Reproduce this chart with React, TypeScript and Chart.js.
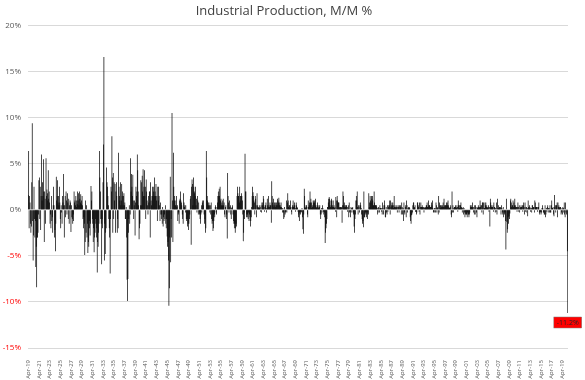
import React, { useEffect, useRef } from "react";
import { Chart, registerables } from "chart.js";

Chart.register(...registerables);

// Monthly % change, Apr-1919 .. Apr-2020
const ip1919to1929 = [
  1.6, 6.4, -2.0, 1.5, 0.8, -1.5, -2.5, -1.8, 3.0,
  9.4, -1.2, -5.5, -2.8, 2.5, -1.0, -3.0, -1.2, -6.2, -4.0, -8.4, -3.0,
  -3.0, -2.5, -0.5, 3.2, 3.5, -1.0, 2.5, -2.2, 1.5, 6.0, 1.0, 3.0,
  1.5, 5.5, 2.0, -3.5, 2.0, 1.2, -1.5, 5.6, 1.5, 2.2, 1.8, 1.0,
  4.3, 1.2, 2.0, 0.8, -1.5, -0.5, -2.0, 1.5, -1.2, -0.8, -2.5, 0.5,
  2.5, 0.5, -3.0, -2.2, -4.5, -1.5, 3.6, 1.0, 1.5, 3.2, 0.8, 1.5,
  0.5, 2.5, 0.8, -1.0, -2.0, 0.5, -0.3, -1.5, 1.5, 0.8, 3.9, 0.5,
  -3.0, 0.5, 1.5, -0.8, 2.0, 1.0, -0.5, 1.8, 0.8, -1.0, 1.2, -1.5,
  0.5, 1.0, 0.8, -2.4, 0.5, -0.8, -1.0, -1.5, -0.5, -1.2, 2.0, 0.8,
  1.0, 0.5, 1.5, 0.3, 1.0, 0.6, 2.0, 1.0, 1.8, 0.5, 2.0, 1.2,
  0.8, 1.7, 0.6, 1.0, 1.5, 0.5, -1.0, -2.0, -0.8, -1.5, -4.9, -3.5,
];
const ip1930s = [
  1.0, -2.5, 0.5, -3.0, -1.5, -4.7, -3.5, -4.0, -1.2, -2.0, -2.8, -1.5,
  2.6, 1.0, 2.0, -1.0, -1.5, -3.5, -2.0, -4.6, -3.0, -2.5, -1.0, -1.5,
  -3.0, -2.0, -6.8, -3.5, -4.0, -2.5, -1.5, 6.4, 3.5, 2.0, -1.0, -1.5,
  -5.9, -1.0, -2.0, 3.0, 7.1, 16.6, -5.5, -1.5, -4.8, -2.5, -2.0, 4.6,
  3.0, 2.5, 1.5, 0.5, -1.0, -2.0, -3.0, -6.9, -1.0, 2.5, 2.0, 8.0,
  3.5, -2.5, 4.0, -1.0, 3.0, 1.0, 2.8, -2.5, 2.0, 3.0, 1.5, -2.5,
  -1.0, -2.0, 6.2, 2.5, 1.5, 1.0, 3.0, 0.5, 1.0, 2.8, 1.5, 2.0,
  0.5, 1.5, 1.8, 0.5, 0.8, -1.0, -1.0, 0.3, -3.0, -7.6, -9.9, -7.5,
  -2.5, -1.0, 0.5, -1.5, -0.5, 5.6, 2.0, 3.9, 2.5, 1.5, 3.8, 1.0,
  -1.0, 0.5, 1.0, -2.8, 0.8, 2.5, 1.5, 2.0, 6.0, 4.3, 2.0, 0.5,
];
const ip1940s = [
  -3.2, -2.0, -1.5, 0.5, 3.2, 3.0, 0.5, 3.7, 2.0, 4.4, 1.5, 2.5,
  4.3, 1.5, 2.5, -1.0, 3.3, 2.0, 1.0, 0.5, -0.5, 1.5, 0.8, 2.0,
  2.0, -3.0, 3.0, 1.0, 0.5, 1.5, 2.5, 1.5, 2.0, 2.5, 1.5, 3.5,
  2.0, 1.5, 2.8, 1.0, 1.5, -1.2, 2.5, 1.0, 2.5, 1.5, 0.5, -1.2,
  0.8, -0.5, -1.0, -0.5, -1.5, 0.3, -1.8, -0.8, -1.2, -0.5, -1.0, 0.5,
  -1.5, -2.0, -1.0, -2.9, -4.0, -3.5, -5.5, -10.4, -8.5, -3.0, 3.6, -5.7,
  -1.0, -3.0, 10.5, 1.0, -3.5, 6.2, 2.5, 1.0, 1.5, 1.0, 0.5, 0.5,
  1.5, 0.3, 0.5, -1.2, -0.5, -0.3, -1.5, 1.0, 1.2, 2.0, 1.0, 0.8,
  0.5, -0.5, -1.0, -1.5, 1.8, 0.8, 0.3, 0.5, -0.3, 0.5, -1.0, -1.2,
  -1.0, -1.8, -1.5, -2.2, -1.5, -1.0, -0.5, 1.2, 1.5, -3.8, 2.5, 3.3,
];
const ip1950s = [
  2.8, 0.5, 3.5, 2.5, 2.0, 1.8, 1.5, 2.5, 0.5, 1.2, -0.3, 1.5,
  1.0, -0.5, 0.8, -0.3, -0.5, -1.0, -1.5, -0.5, 0.5, -0.3, 0.8, 1.0,
  0.5, 1.0, -0.5, -1.5, -1.0, -2.5, -2.0, 6.4, 3.5, 1.5, 1.0, 0.8,
  0.5, 0.8, 0.5, -0.3, 0.5, -0.5, 0.8, -1.0, -1.5, -1.2, -2.3, -2.0,
  -1.2, -0.5, -0.8, 0.3, 0.5, -0.3, -0.5, 0.3, 0.8, 1.5, 2.0, 1.5,
  2.3, 1.5, 2.5, 1.0, 1.2, 0.5, 0.8, 0.5, 1.0, 1.2, 0.5, 0.8,
  -0.5, -0.8, 0.3, 0.5, -1.0, -0.5, -3.1, 4.0, 1.5, 0.8, -0.3, 1.0,
  0.3, 0.5, -0.5, -1.0, 0.2, 0.3, 0.5, -0.5, -1.2, -1.5, -2.0, -1.5,
  -2.5, -2.0, -1.5, -1.8, 1.5, 2.5, 1.8, 1.5, 1.5, 0.8, 2.5, 1.0,
  1.5, 1.5, 1.8, 1.5, 1.0, -0.5, -3.4, -2.5, -0.3, -1.0, 6.1, 2.0,
];
const ip1960s = [
  2.0, -0.8, -0.5, -0.8, -0.5, -1.0, -0.3, -1.2, -0.5, -0.8, -1.8, -1.2,
  -0.8, 0.3, 1.5, 2.5, 1.9, 1.5, 1.0, 0.8, -0.5, 1.5, 1.2, 0.5,
  -0.8, 1.8, 0.5, 0.3, 0.2, 0.3, 0.5, 0.2, 0.3, -0.2, 0.5, -0.3,
  0.8, 0.5, 0.8, 1.5, 1.2, 0.3, -0.2, 0.5, 0.5, 0.8, -0.3, 0.2,
  1.2, 0.5, 0.3, 1.5, 0.5, 0.3, 0.8, 0.5, 0.5, -1.4, 3.1, 1.5,
  0.8, 0.5, 1.2, 0.3, 0.8, 0.5, 0.8, 0.3, 0.5, 0.8, 0.5, 1.2,
  1.0, 0.8, 1.3, 0.5, 0.8, 0.5, 0.3, 0.8, 0.3, 0.2, -0.3, 0.2,
  -0.3, -1.0, -0.8, 0.3, -0.5, -0.3, -0.2, 1.0, -0.3, 0.8, 1.8, 1.0,
  0.3, 0.5, 0.5, 0.2, 1.0, 0.3, -0.2, -0.5, 0.3, 0.5, 1.0, 0.3,
  0.5, 0.8, 0.5, -0.2, 0.2, 0.8, 0.5, 0.3, 0.2, -0.2, -0.8, -0.5,
];
const ip1970s = [
  -1.2, -0.3, -0.2, -0.5, -0.3, -0.2, 0.2, -0.8, -2.1, -2.6, -0.5, 2.3,
  1.5, 0.3, 0.2, 0.5, 0.5, 0.3, -0.5, -0.8, 1.0, 0.3, 0.5, 0.8,
  2.0, 0.8, 1.2, 0.8, 0.2, 0.5, 0.3, 1.0, 0.8, 1.0, 0.8, 1.0,
  1.2, 0.5, 0.3, 0.2, 0.5, 0.8, 0.3, 0.2, 0.5, 0.3, 0.5, -0.5,
  -1.0, -0.5, 0.2, -0.3, 0.5, 0.2, -0.2, -0.5, -0.3, -0.8, -3.6, -2.5,
  -2.0, -1.5, -1.0, 0.3, 0.3, 0.8, 1.2, 1.4, 1.2, 0.5, 0.3, 1.0,
  1.2, 1.0, 0.5, 0.3, 1.0, 0.3, 0.5, 0.2, 0.3, -0.2, 1.4, 1.0,
  -0.8, 1.5, 1.0, 0.8, 0.8, 0.8, 0.3, 0.2, 0.3, 0.3, 0.2, 0.3,
  -1.4, 0.5, 2.0, 1.5, 0.5, 0.8, 0.3, 0.5, 0.3, 0.5, 0.5, 0.3,
  -0.2, 0.3, 0.5, -0.8, 0.8, -0.3, -0.2, -0.8, 0.3, 0.2, -0.3, 0.2,
];
const ip1980s = [
  0.3, -0.3, -0.5, -1.8, -2.5, -1.0, -0.5, 1.0, 1.5, 1.0, 2.0, 0.3,
  -0.5, 0.5, 0.3, -0.3, 0.5, 0.8, 0.5, 0.2, -0.5, -1.0, -1.5, -1.2,
  -1.9, 2.0, -0.8, -0.8, -0.5, -0.3, -0.3, -0.8, -0.5, -1.0, -0.3, -0.5,
  1.8, 0.3, 0.8, 1.5, 1.0, 0.8, 1.5, 1.2, 1.5, 1.0, 0.5, 0.5,
  2.0, 0.8, 0.5, 0.5, 0.5, 0.5, 0.3, 0.2, -0.5, -0.3, 0.3, 0.2,
  -0.3, 0.5, 0.2, 0.2, 0.2, -0.2, -0.5, 0.8, 0.2, -0.5, 0.5, 1.0,
  0.5, -0.8, -0.8, 0.3, -0.3, -0.5, 0.5, -0.2, 0.3, 0.5, 0.5, 1.0,
  -0.5, 1.0, 0.3, 0.5, 0.8, 0.5, 0.8, 0.5, 0.2, 1.5, 0.3, 0.5,
  0.3, 0.2, 0.3, 0.5, -0.3, 0.3, 0.5, 0.3, -0.3, 0.5, 0.3, 0.5,
  0.3, -0.5, 0.8, 0.3, -0.5, 0.2, -1.2, 0.8, -0.3, -0.5, 0.3, 0.5,
];
const ip1990s = [
  -0.8, 1.0, 0.5, -0.3, 0.2, 0.3, 0.2, 0.3, 0.2, -0.8, -1.2, -1.5,
  -0.6, -0.5, -0.3, 0.5, 0.8, 0.8, 0.2, 0.3, 0.5, -0.2, -0.2, -0.5,
  -0.3, 0.8, 0.8, 0.5, 0.3, -0.2, 0.8, -0.5, 0.3, 0.8, 0.3, 0.3,
  0.5, 0.3, 0.2, 0.3, -0.3, 0.2, 0.3, 0.2, 0.3, 0.5, 0.5, 0.8,
  0.3, 0.3, 1.0, 0.5, 0.5, 0.5, 0.3, 0.3, 0.3, 0.8, 0.5, 1.0,
  0.2, -0.3, -0.2, -0.3, 0.2, 0.2, -0.3, 0.8, 0.5, -0.3, 0.2, 0.3,
  -0.5, 1.5, -0.3, 0.8, 0.5, 0.5, 0.2, 0.5, 0.3, 0.3, 0.5, 0.8,
  0.3, 1.2, 0.5, 0.3, 0.5, 0.5, 0.5, 0.8, 0.8, 0.5, 1.0, 0.5,
  0.3, 0.2, 0.2, 0.3, 0.5, -0.5, -0.8, 2.0, -0.3, 0.5, -0.3, 0.2,
  0.3, 0.3, 0.3, 0.5, 0.3, 0.2, 0.5, 0.3, -0.2, 1.0, 0.5, 0.5,
];
const ip2000s = [
  0.2, 0.5, 0.5, 0.8, 0.3, 0.2, -0.3, 0.2, 0.3, -0.5, 0.2, -0.3,
  -0.8, -0.5, -0.3, -0.5, -0.5, -0.8, -0.3, -0.5, -0.5, -0.8, -0.5, -0.3,
  0.5, 0.3, 0.5, 0.3, 0.3, 0.8, 0.3, -0.3, 0.3, -0.5, 0.5, -0.5,
  0.5, 0.3, -0.3, -0.8, 0.2, 0.3, 0.5, 0.3, 0.2, 0.3, 1.0, 0.3,
  0.5, 0.5, -0.3, 0.8, 0.8, -0.5, 0.8, 0.2, 0.2, 0.8, 0.5, 0.8,
  0.3, 0.5, 0.3, 0.2, 0.3, 0.5, -0.2, 0.3, -1.8, 1.2, 0.8, 0.5,
  0.3, 0.3, 0.3, 0.5, -0.2, 0.8, 0.3, 0.3, -0.3, 0.2, -0.2, 0.8,
  -0.5, 1.2, 0.2, 0.5, 0.2, 0.3, 0.3, 0.2, 0.3, -0.5, 0.5, 0.2,
  -0.3, -0.5, 0.3, -0.8, -0.3, -0.5, -0.3, -1.2, -4.3, 1.2, -1.3, -2.5,
  -2.1, -0.8, -1.5, -0.7, -1.0, -0.4, 1.0, 1.2, 0.8, 0.3, 0.5, 0.5,
];
const ip2010s = [
  1.0, 0.3, 0.8, 0.5, 1.2, 0.3, 0.5, 0.3, 0.3, -0.2, 0.3, 0.8,
  0.3, -0.2, 0.5, -0.3, 0.2, 0.3, 0.5, 0.3, 0.3, 0.5, -0.2, 0.5,
  0.8, 0.3, -0.5, 0.8, -0.2, 0.3, 0.3, -0.3, 0.2, -0.7, 1.0, 0.3,
  0.2, 0.5, 0.3, -0.2, 0.2, 0.2, -0.3, 0.5, 0.5, 0.2, 0.3, 0.3,
  -0.3, 1.0, 0.8, 0.3, 0.3, 0.3, 0.3, -0.2, 0.3, 0.3, 0.8, -0.3,
  -0.5, -0.3, -0.2, -0.5, -0.3, 0.2, 0.5, 0.2, -0.3, -0.3, -0.5, -0.5,
  0.5, -0.8, -0.5, 0.2, -0.2, 0.3, 0.5, -0.3, 0.2, 0.2, -0.3, 0.5,
  -0.3, -0.3, 0.5, 1.0, 0.2, 0.2, 0.3, -0.5, -0.7, 1.6, 0.3, 0.5,
  -0.3, 0.5, 0.5, 0.8, -0.8, 0.8, 0.3, 0.5, 0.3, 0.2, 0.3, 0.3,
  -0.5, -0.3, 0.2, -0.5, 0.3, 0.2, -0.3, 0.8, -0.5, -0.8, 0.8, -0.3,
];
const ip2020 = [-0.5, 0.1, -4.5, -11.2];

const monthNames = ["Jan", "Feb", "Mar", "Apr", "May", "Jun", "Jul", "Aug", "Sep", "Oct", "Nov", "Dec"];
const firstYear = 1919;
const firstMonthIndex = 3; // April
const tickEveryMonths = 24;

const values = [
  ...ip1919to1929, ...ip1930s, ...ip1940s, ...ip1950s, ...ip1960s,
  ...ip1970s, ...ip1980s, ...ip1990s, ...ip2000s, ...ip2010s, ...ip2020,
];
const categories = values.map((_, i) => {
  const m = firstMonthIndex + i;
  const y = firstYear + Math.floor(m / 12);
  return `${monthNames[m % 12]}-${String(y).slice(2)}`;
});

const FONT = "'Open Sans', 'Noto Sans', sans-serif";

const lastLabelPlugin = {
  id: "lastLabel",
  afterDatasetsDraw(chart: any) {
    const meta = chart.getDatasetMeta(0);
    const idx = values.length - 1;
    const el = meta.data[idx];
    if (!el) return;
    const ctx = chart.ctx;
    const text = `${values[idx].toFixed(1)}%`;
    ctx.save();
    ctx.font = `7px ${FONT}`;
    const w = ctx.measureText(text).width + 6;
    const h = 11;
    const x = el.x - w / 2;
    const y = el.y + 4;
    ctx.fillStyle = "#FF0000";
    ctx.fillRect(x, y, w, h);
    ctx.strokeStyle = "#7f7f7f";
    ctx.lineWidth = 0.5;
    ctx.strokeRect(x, y, w, h);
    ctx.fillStyle = "#262626";
    ctx.textAlign = "center";
    ctx.textBaseline = "middle";
    ctx.fillText(text, el.x, y + h / 2 + 0.5);
    ctx.restore();
  },
};

export default function App() {
  const ref = useRef<HTMLCanvasElement | null>(null);
  useEffect(() => {
    if (!ref.current) return;
    const chart = new Chart(ref.current, {
      type: "bar",
      data: {
        labels: categories,
        datasets: [
          {
            data: values,
            backgroundColor: "#000000",
            borderWidth: 0,
            barPercentage: 1.6,
            categoryPercentage: 1,
          },
        ],
      },
      options: {
        responsive: false,
        animation: false,
        layout: { padding: { left: 0, right: 17, top: 0, bottom: 0 } },
        plugins: {
          legend: { display: false },
          tooltip: { enabled: false },
          title: {
            display: true,
            text: "Industrial Production, M/M %",
            color: "#404040",
            font: { family: FONT, size: 13, weight: "normal" },
            padding: { top: 3, bottom: 7 },
          },
        },
        scales: {
          x: {
            grid: { display: false },
            border: { display: false },
            afterFit: (scale: any) => {
              scale.height = 32;
            },
            ticks: {
              autoSkip: false,
              minRotation: 90,
              maxRotation: 90,
              padding: 4,
              color: "#595959",
              font: { family: FONT, size: 6 },
              callback: (_v: any, i: number) => (i % tickEveryMonths === 0 ? categories[i] : null),
            },
          },
          y: {
            min: -15,
            max: 20,
            grid: { color: "#d9d9d9", drawTicks: false },
            border: { display: false },
            afterFit: (scale: any) => {
              scale.width = 28;
            },
            ticks: {
              stepSize: 5,
              padding: 7,
              font: { family: FONT, size: 8 },
              color: (c: any) => (c.tick && c.tick.value < 0 ? "#FF0000" : "#595959"),
              callback: (v: any) => `${v}%`,
            },
          },
        },
      },
      plugins: [lastLabelPlugin],
    });
    return () => chart.destroy();
  }, []);
  return (
    <div style={{ position: "fixed", left: 0, top: 0, width: 585, height: 380, background: "#fff" }}>
      <canvas ref={ref} width={585} height={380} />
    </div>
  );
}
